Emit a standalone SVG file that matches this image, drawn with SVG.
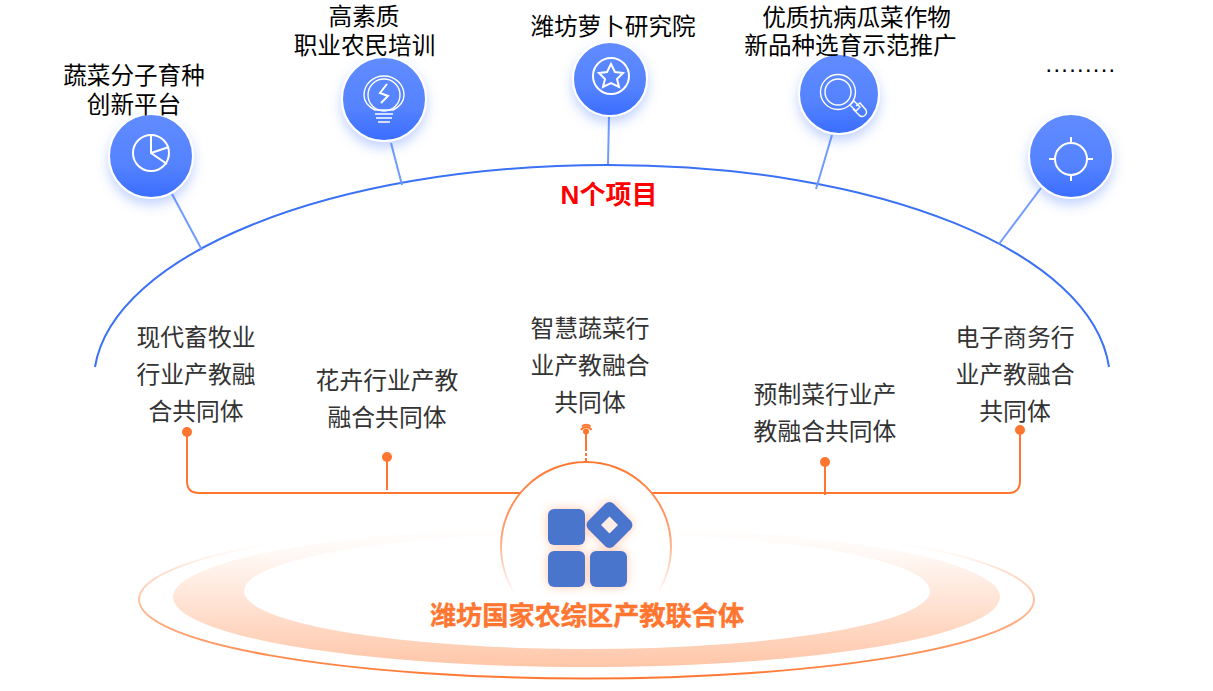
<svg xmlns="http://www.w3.org/2000/svg" width="1213" height="691" viewBox="0 0 1213 691">
<style>
text{font-family:"Liberation Sans","Noto Sans CJK SC",sans-serif;text-anchor:middle}
.top{font-size:23.6px;fill:#000}
.mid{font-size:23.8px;fill:#333}
.ico{fill:none;stroke:#fff;stroke-width:2}
.thin{fill:none;stroke:#fff;stroke-width:1.4}
.stem{stroke:#6f9bff;stroke-width:2;fill:none}
.or{stroke:#ff7630;stroke-width:2;fill:none}
.dot{fill:#ff7630}
.disc{stroke:#fff;stroke-width:2;fill:url(#blue);filter:url(#sh)}
</style>
<defs>
<linearGradient id="blue" x1="0" y1="0" x2="0" y2="1"><stop offset="0" stop-color="#608cff"/><stop offset="0.6" stop-color="#5583ff"/><stop offset="1" stop-color="#3a6dff"/></linearGradient>
<filter id="sh" x="-40%" y="-40%" width="180%" height="180%"><feDropShadow dx="0" dy="6" stdDeviation="6" flood-color="#3a6dff" flood-opacity="0.3"/></filter>
<filter id="gl" x="-30%" y="-30%" width="160%" height="160%"><feDropShadow dx="0" dy="0" stdDeviation="5" flood-color="#ff7630" flood-opacity="0.4"/></filter>
<linearGradient id="mid" x1="0" y1="0" x2="0" y2="1"><stop offset="0" stop-color="#fff"/><stop offset="0.2" stop-color="#fff8f4"/><stop offset="1" stop-color="#ffc6a8"/></linearGradient>
<linearGradient id="ring" x1="0" y1="0" x2="0" y2="1"><stop offset="0.1" stop-color="#fff" stop-opacity="0"/><stop offset="0.3" stop-color="#ffe3d4"/><stop offset="1" stop-color="#ff7630"/></linearGradient>
<linearGradient id="cir" x1="0" y1="0" x2="0" y2="1"><stop offset="0" stop-color="#ff7630"/><stop offset="0.45" stop-color="#ffa67c"/><stop offset="0.72" stop-color="#ffe8dc" stop-opacity="0.7"/><stop offset="0.8" stop-color="#fff" stop-opacity="0"/></linearGradient>
</defs>

<g id="base">
<ellipse cx="586.500" cy="599.500" rx="447.500" ry="79" fill="none" stroke="url(#ring)" stroke-width="2"/>
<ellipse cx="586.500" cy="597" rx="413.500" ry="70" fill="url(#mid)"/>
<ellipse cx="587" cy="591" rx="343" ry="58" fill="#fff"/>
</g>

<g id="connectors">
<path d="M95 367C113 255 330 165 608 165C880 165 1092 252 1109 367" fill="none" stroke="#3b71f5" stroke-width="2"/>
<line class="stem" x1="172" y1="194" x2="202" y2="250"/>
<line class="stem" x1="391" y1="143" x2="402" y2="185"/>
<line class="stem" x1="609" y1="116" x2="608" y2="164"/>
<line class="stem" x1="832" y1="135" x2="816" y2="189"/>
<line class="stem" x1="1041" y1="188" x2="999" y2="244"/>
<path class="or" d="M187 432V481Q187 493 199 493H521"/>
<path class="or" d="M387 457V490"/>
<path class="or" d="M651 493H1008Q1020 493 1020 481V430"/>
<path class="or" d="M825 462V495"/>
<path class="or" d="M586 432V451M586 453V456M586 458V461"/>
<circle class="dot" cx="187" cy="432" r="5"/>
<circle class="dot" cx="387" cy="457" r="5"/>
<circle class="dot" cx="825" cy="462" r="5"/>
<circle class="dot" cx="1020" cy="430" r="5"/>
<circle class="dot" cx="586" cy="431.500" r="3"/>
<path d="M581 430A6 6 0 0 1 591.500 430" fill="none" stroke="#ff7630" stroke-width="2"/>
<path d="M582 426.500A6 6 0 0 1 590.500 426.500" fill="none" stroke="#ff7630" stroke-width="2"/>
</g>

<g id="node-1">
<circle class="disc" cx="151" cy="156" r="42"/>
<circle class="ico" cx="151" cy="153" r="18"/>
<path class="ico" d="M151 134V153L167 164M151 153L169 147"/>
<text class="top" x="134" y="84">蔬菜分子育种</text>
<text class="top" x="134" y="113">创新平台</text>
</g>
<g id="node-2">
<circle class="disc" cx="384" cy="99" r="42"/>
<path class="thin" d="M375 110C367 106 364 100 364 95A20 19 0 0 1 404 95C404 100 401 106 393 110Z"/>
<circle class="thin" cx="384" cy="95" r="16"/>
<path class="ico" d="M387 84L380 93L388 96L381 103"/>
<path class="thin" d="M375 114H393M376 118H392M378 122H390"/>
<text class="top" x="364" y="25">高素质</text>
<text class="top" x="364.500" y="54">职业农民培训</text>
</g>
<g id="node-3">
<circle class="disc" cx="610" cy="79" r="37"/>
<circle class="ico" cx="611" cy="76" r="18"/>
<path class="ico" d="M611 64L615 72L623 73L617 79L619 87L611 83L603 87L605 79L599 73L607 72Z"/>
<text class="top" x="613" y="35">潍坊萝卜研究院</text>
</g>
<g id="node-4">
<circle class="disc" cx="839" cy="94" r="40"/>
<circle class="thin" cx="838" cy="92" r="17.500"/>
<circle class="thin" cx="838" cy="92" r="13"/>
<path class="thin" d="M850 105L854 101L860 107L856 111ZM856 106L860 103L866 110A4.500 4.500 0 0 1 860 116L853 109"/>
<text class="top" x="856.500" y="26">优质抗病瓜菜作物</text>
<text class="top" x="850.500" y="54">新品种选育示范推广</text>
</g>
<g id="node-5">
<circle class="disc" cx="1071" cy="156" r="42"/>
<circle class="ico" stroke-width="2.500" cx="1071" cy="159" r="16"/>
<path class="ico" d="M1071 137V143M1071 175V181M1049 159H1055M1087 159H1093"/>
<text class="top" x="1081" y="72" style="letter-spacing:1.330px">.........</text>
</g>

<text x="609" y="204" font-size="26" font-weight="700" fill="#f00">N个项目</text>

<g id="c1"><text class="mid" x="196" y="346">现代畜牧业</text><text class="mid" x="196" y="383">行业产教融</text><text class="mid" x="196" y="420">合共同体</text></g>
<g id="c2"><text class="mid" x="387" y="389">花卉行业产教</text><text class="mid" x="387" y="426">融合共同体</text></g>
<g id="c3"><text class="mid" x="590" y="337">智慧蔬菜行</text><text class="mid" x="590" y="374">业产教融合</text><text class="mid" x="590" y="411">共同体</text></g>
<g id="c4"><text class="mid" x="825" y="403">预制菜行业产</text><text class="mid" x="825" y="440">教融合共同体</text></g>
<g id="c5"><text class="mid" x="1015" y="346">电子商务行</text><text class="mid" x="1015" y="383">业产教融合</text><text class="mid" x="1015" y="420">共同体</text></g>

<g id="hub">
<circle cx="586" cy="547" r="85" fill="#fff" fill-opacity="0.9" stroke="url(#cir)" stroke-width="2"/>
<g fill="#4a76cc" filter="url(#gl)">
<rect x="548" y="509" width="37" height="36" rx="6"/>
<rect x="548" y="551" width="37" height="36" rx="6"/>
<rect x="590" y="551" width="37" height="36" rx="6"/>
<rect x="591.500" y="507" width="36" height="36" rx="6" transform="rotate(45 609.500 525)"/>
<rect x="603.500" y="519" width="12" height="12" transform="rotate(45 609.500 525)" fill="#ffeee6"/>
</g>
<text x="587" y="625" font-size="26.200" font-weight="700" fill="#ff7630" stroke="#ff7630" stroke-width="0.400">潍坊国家农综区产教联合体</text>
</g>
</svg>
